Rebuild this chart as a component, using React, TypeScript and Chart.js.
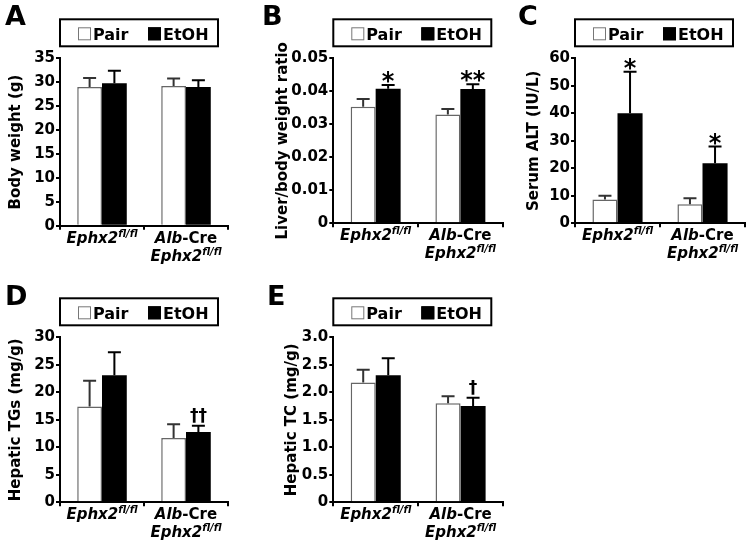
import React, { useEffect, useRef } from 'react';
import { Chart, registerables } from 'chart.js';
Chart.register(...registerables);

const FONT = '"DejaVu Sans"';
Chart.defaults.font.family = FONT;
Chart.defaults.color = '#000';

// ---- data ----
const categories = ['Ephx2fl/fl', 'Alb-Cre Ephx2fl/fl'];
const seriesNames = ['Pair', 'EtOH'];

const pairA = [29.0, 29.2];
const pairErrA = [1.9, 1.6];
const etohA = [29.8, 29.0];
const etohErrA = [2.6, 1.4];
const sigA = ['', ''];
const ticksA = ['0', '5', '10', '15', '20', '25', '30', '35'];

const pairB = [0.0353, 0.033];
const pairErrB = [0.0024, 0.0016];
const etohB = [0.0408, 0.0407];
const etohErrB = [0.0011, 0.0014];
const sigB = ['*', '**'];
const ticksB = ['0', '0.01', '0.02', '0.03', '0.04', '0.05'];

const pairC = [8.7, 6.9];
const pairErrC = [1.3, 2.2];
const etohC = [40.0, 21.8];
const etohErrC = [15.1, 6.1];
const sigC = ['*', '*'];
const ticksC = ['0', '10', '20', '30', '40', '50', '60'];

const pairD = [17.4, 11.7];
const pairErrD = [4.7, 2.5];
const etohD = [23.1, 12.8];
const etohErrD = [4.2, 1.1];
const sigD = ['', '††'];
const ticksD = ['0', '5', '10', '15', '20', '25', '30'];

const pairE = [2.18, 1.8];
const pairErrE = [0.23, 0.13];
const etohE = [2.31, 1.75];
const etohErrE = [0.31, 0.15];
const sigE = ['', '†'];
const ticksE = ['0', '0.5', '1.0', '1.5', '2.0', '2.5', '3.0'];

type Geo = { x0: number; y0: number; w: number; h: number; left: number; right: number; top: number; bottom: number; title: number; lx: number; ly: number };
type Panel = { letter: string; yTitle: string; pair: number[]; pairErr: number[]; etoh: number[]; etohErr: number[]; sig: string[]; ticks: string[]; max: number; step: number; geo: Geo };

const panels: Panel[] = [
  { letter: 'A', yTitle: 'Body weight (g)', pair: pairA, pairErr: pairErrA, etoh: etohA, etohErr: etohErrA, sig: sigA, ticks: ticksA, max: 35, step: 5,
    geo: { x0: 0, y0: 0, w: 245, h: 275, left: 60, right: 228, top: 58.3, bottom: 225.7, title: 16, lx: 5, ly: 25 } },
  { letter: 'B', yTitle: 'Liver/body weight ratio', pair: pairB, pairErr: pairErrB, etoh: etohB, etohErr: etohErrB, sig: sigB, ticks: ticksB, max: 0.05, step: 0.01,
    geo: { x0: 245, y0: 0, w: 265, h: 275, left: 333.3, right: 502.7, top: 58.3, bottom: 223.3, title: 283, lx: 262, ly: 25 } },
  { letter: 'C', yTitle: 'Serum ALT (IU/L)', pair: pairC, pairErr: pairErrC, etoh: etohC, etohErr: etohErrC, sig: sigC, ticks: ticksC, max: 60, step: 10,
    geo: { x0: 505, y0: 0, w: 242, h: 275, left: 575, right: 745, top: 58.3, bottom: 223.3, title: 534, lx: 518, ly: 25 } },
  { letter: 'D', yTitle: 'Hepatic TGs (mg/g)', pair: pairD, pairErr: pairErrD, etoh: etohD, etohErr: etohErrD, sig: sigD, ticks: ticksD, max: 30, step: 5,
    geo: { x0: 0, y0: 275, w: 245, h: 275, left: 60, right: 228, top: 337.3, bottom: 502.3, title: 16, lx: 5, ly: 305 } },
  { letter: 'E', yTitle: 'Hepatic TC (mg/g)', pair: pairE, pairErr: pairErrE, etoh: etohE, etohErr: etohErrE, sig: sigE, ticks: ticksE, max: 3, step: 0.5,
    geo: { x0: 245, y0: 275, w: 265, h: 275, left: 333.3, right: 503, top: 337.3, bottom: 502.3, title: 292, lx: 267, ly: 305 } },
];

type Run = { t: string; it: boolean; sup?: boolean };

function labelLines(cat: string): Run[][] {
  // builds rich runs from category text
  const gene: Run[] = [{ t: 'Ephx2', it: true }, { t: 'fl/fl', it: true, sup: true }];
  if (cat.startsWith('Alb-Cre')) {
    return [[{ t: 'Alb', it: true }, { t: '-Cre', it: false }], gene];
  }
  return [gene];
}

function runFont(r: Run) {
  return `${r.it ? 'italic ' : ''}bold ${r.sup ? 10 : 15}px ${FONT}`;
}

function drawRuns(ctx: CanvasRenderingContext2D, runs: Run[], cx: number, base: number) {
  let total = 0;
  runs.forEach((r) => { ctx.font = runFont(r); total += ctx.measureText(r.t).width; });
  let x = cx - total / 2;
  ctx.textAlign = 'left';
  ctx.textBaseline = 'alphabetic';
  runs.forEach((r) => {
    ctx.font = runFont(r);
    ctx.fillText(r.t, x, r.sup ? base - 6 : base);
    x += ctx.measureText(r.t).width;
  });
}

function makePlugin(p: Panel) {
  return {
    id: 'panelDecor' + p.letter,
    afterDatasetsDraw(chart: any) {
      const ctx: CanvasRenderingContext2D = chart.ctx;
      const ys = chart.scales.y;
      [p.pairErr, p.etohErr].forEach((errs, di) => {
        const meta = chart.getDatasetMeta(di);
        meta.data.forEach((bar: any, i: number) => {
          const v = chart.data.datasets[di].data[i] as number;
          const yTop = ys.getPixelForValue(v + errs[i]);
          ctx.save();
          ctx.strokeStyle = di === 0 ? '#333' : '#000';
          ctx.lineWidth = 2;
          ctx.beginPath();
          ctx.moveTo(bar.x, bar.y);
          ctx.lineTo(bar.x, yTop);
          ctx.moveTo(bar.x - 6.5, yTop);
          ctx.lineTo(bar.x + 6.5, yTop);
          ctx.stroke();
          if (di === 1 && p.sig[i]) {
            const s = p.sig[i];
            ctx.fillStyle = '#000';
            ctx.textAlign = 'center';
            ctx.textBaseline = 'alphabetic';
            if (s.includes('*')) {
              ctx.font = `bold 24px ${FONT}`;
              ctx.fillText(s, bar.x, yTop + 4);
            } else {
              ctx.font = `bold 17px ${FONT}`;
              ctx.fillText(s, bar.x, yTop - 5);
            }
          }
          ctx.restore();
        });
      });
    },
    afterDraw(chart: any) {
      const ctx: CanvasRenderingContext2D = chart.ctx;
      const ca = chart.chartArea;
      const xs = chart.scales.x;
      const g = p.geo;
      ctx.save();
      // panel letter
      ctx.fillStyle = '#000';
      ctx.font = `bold 27px ${FONT}`;
      ctx.textAlign = 'left';
      ctx.textBaseline = 'alphabetic';
      ctx.fillText(p.letter, g.lx - g.x0, g.ly - g.y0);
      // legend box
      const bx = ca.left, by = ca.top - 39, bw = 158, bh = 27;
      ctx.strokeStyle = '#000';
      ctx.lineWidth = 2;
      ctx.strokeRect(bx, by, bw, bh);
      ctx.font = `bold 16px ${FONT}`;
      const ds = chart.data.datasets;
      [0, 1].forEach((k) => {
        const sx = bx + (k === 0 ? 18 : 88);
        ctx.fillStyle = ds[k].backgroundColor;
        ctx.fillRect(sx, by + 8, 13, 13);
        ctx.lineWidth = 1;
        ctx.strokeStyle = k === 0 ? '#777' : '#000';
        ctx.strokeRect(sx + 0.5, by + 8.5, 12, 12);
        ctx.fillStyle = '#000';
        ctx.fillText(ds[k].label, sx + 15, by + 20.5);
      });
      // category labels
      ctx.fillStyle = '#000';
      chart.data.labels.forEach((cat: string, i: number) => {
        const cx = xs.getPixelForValue(i);
        labelLines(cat).forEach((runs, li) => drawRuns(ctx, runs, cx, ca.bottom + 17 + li * 18));
      });
      ctx.restore();
    },
  };
}

function buildChart(canvas: HTMLCanvasElement, p: Panel) {
  const g = p.geo;
  const padLeft = g.title - 9 - g.x0;
  const yWidth = g.left - g.x0 - padLeft;
  const xHeight = 4;
  return new Chart(canvas, {
    type: 'bar',
    data: {
      labels: categories,
      datasets: [
        { label: seriesNames[0], data: p.pair, backgroundColor: '#ffffff', borderColor: '#666', borderWidth: 1.5, categoryPercentage: 0.59, barPercentage: 1 },
        { label: seriesNames[1], data: p.etoh, backgroundColor: '#000000', borderColor: '#000', borderWidth: 0, categoryPercentage: 0.59, barPercentage: 1 },
      ],
    },
    options: {
      responsive: false,
      animation: false,
      devicePixelRatio: 1,
      layout: { padding: { left: padLeft, right: g.x0 + g.w - g.right, top: g.top - g.y0, bottom: g.y0 + g.h - g.bottom - xHeight } },
      plugins: { legend: { display: false }, tooltip: { enabled: false } },
      scales: {
        x: {
          offset: true,
          grid: { display: true, drawOnChartArea: false, drawTicks: true, tickLength: 4, color: '#000', lineWidth: 2, offset: true },
          border: { display: true, color: '#000', width: 2 },
          ticks: { display: false },
          afterFit: (s: any) => { s.height = xHeight; },
        },
        y: {
          min: 0,
          max: p.max,
          grid: { display: true, drawOnChartArea: false, drawTicks: true, tickLength: 4, color: '#000', lineWidth: 2 },
          border: { display: true, color: '#000', width: 2 },
          ticks: { stepSize: p.step, padding: 1, color: '#000', font: { size: 15, weight: 'bold' }, autoSkip: false, callback: (_v: any, i: number) => p.ticks[i] },
          title: { display: true, text: p.yTitle, color: '#000', font: { size: 15, weight: 'bold', lineHeight: 1.2 }, padding: 0 },
          afterFit: (s: any) => { s.width = yWidth; },
        },
      },
    } as any,
    plugins: [makePlugin(p)],
  });
}

export default function App() {
  const refs = useRef<(HTMLCanvasElement | null)[]>([]);
  useEffect(() => {
    const charts = panels.map((p, i) => buildChart(refs.current[i] as HTMLCanvasElement, p));
    return () => charts.forEach((c) => c.destroy());
  }, []);
  return (
    <div style={{ position: 'absolute', left: 0, top: 0, width: 747, height: 550, background: '#fff', overflow: 'hidden' }}>
      {panels.map((p, i) => (
        <canvas
          key={p.letter}
          ref={(el) => { refs.current[i] = el; }}
          width={p.geo.w}
          height={p.geo.h}
          style={{ position: 'absolute', left: p.geo.x0, top: p.geo.y0, width: p.geo.w, height: p.geo.h }}
        />
      ))}
    </div>
  );
}
